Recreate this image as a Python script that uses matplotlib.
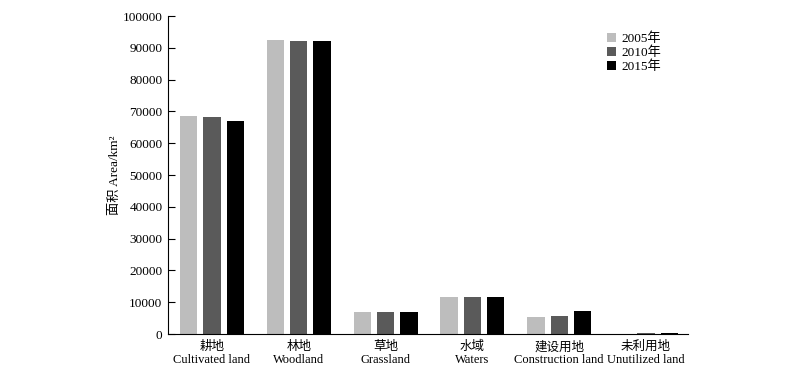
import numpy as np
import matplotlib
matplotlib.use('Agg')
import matplotlib.pyplot as plt

plt.rcParams['font.family'] = ['Liberation Serif', 'Noto Sans CJK SC']

categories = ['耕地\nCultivated land', '林地\nWoodland', '草地\nGrassland',
              '水域\nWaters', '建设用地\nConstruction land', '未利用地\nUnutilized land']
years = ['2005年', '2010年', '2015年']
area_2005 = [68600, 92400, 6900, 11600, 5350, 100]
area_2010 = [68100, 92300, 6900, 11600, 5780, 300]
area_2015 = [67000, 92000, 6900, 11600, 7230, 400]
colors = ['#bdbdbd', '#5a5a5a', '#000000']

fig = plt.figure(figsize=(8, 3.76), dpi=100)
ax = fig.add_axes([0.21, 0.1117, 0.65, 0.8457])

x = np.arange(len(categories))
w = 0.2
step = 0.268
for i, vals in enumerate([area_2005, area_2010, area_2015]):
    ax.bar(x + (i - 1) * step, vals, width=w, color=colors[i], label=years[i])

ax.set_xlim(-0.506, 5.483)
ax.set_ylim(0, 100000)
ax.set_yticks(np.arange(0, 100001, 10000))
ax.set_xticks(x)
ax.set_xticklabels(categories, fontsize=9, linespacing=1.1)
ax.tick_params(axis='x', length=0, pad=5)
ax.tick_params(axis='y', labelsize=9.5, length=5, direction='in', pad=4)
ax.spines['top'].set_visible(False)
ax.spines['right'].set_visible(False)
ax.set_ylabel('面积 Area/km²', fontsize=9.5, labelpad=1)

ax.legend(loc='upper right', bbox_to_anchor=(0.971, 0.985), frameon=False,
          fontsize=9.5, handlelength=0.7, handleheight=0.7, handletextpad=0.4,
          labelspacing=0.1)

fig.savefig('out.png', dpi=100)
